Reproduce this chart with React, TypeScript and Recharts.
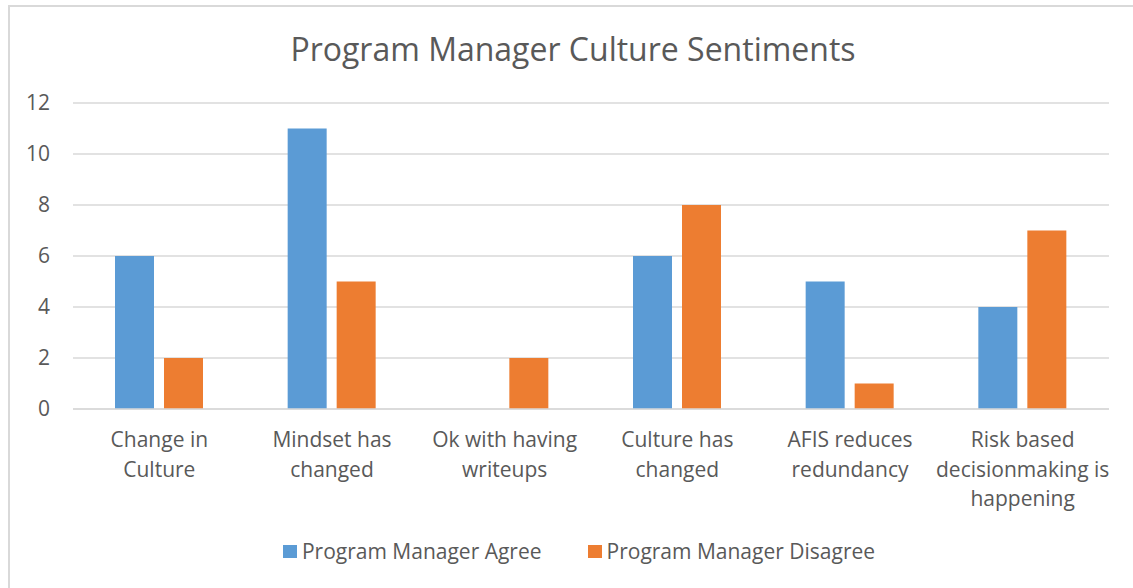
import React from "react"
import { BarChart, Bar, XAxis, YAxis, CartesianGrid } from "recharts"

const categories = [
  "Change in\nCulture",
  "Mindset has\nchanged",
  "Ok with having\nwriteups",
  "Culture has\nchanged",
  "AFIS reduces\nredundancy",
  "Risk based\ndecisionmaking is\nhappening",
]
const agree = [6, 11, 0, 6, 5, 4]
const disagree = [2, 5, 2, 8, 1, 7]
const yTicks = [0, 2, 4, 6, 8, 10, 12]

const BLUE = "#5B9BD5"
const ORANGE = "#ED7D31"
const TEXT = "#595959"
const FONT = "'Open Sans', sans-serif"

const data = categories.map((name, i) => ({
  name,
  agree: agree[i],
  disagree: disagree[i],
}))

function CategoryTick(props: any) {
  const { x, y, payload } = props
  const lines = String(payload.value).split("\n")
  return (
    <text x={x} y={y} textAnchor="middle" fill={TEXT} fontSize={21} fontFamily={FONT}>
      {lines.map((line: string, i: number) => (
        <tspan key={i} x={x} dy={i === 0 ? 30 : 29.5}>
          {line}
        </tspan>
      ))}
    </text>
  )
}

function ChartLegend() {
  const items = [
    { label: "Program Manager Agree", color: BLUE },
    { label: "Program Manager Disagree", color: ORANGE },
  ]
  return (
    <div
      style={{
        position: "absolute",
        left: 0,
        top: 537,
        width: 1158,
        display: "flex",
        justifyContent: "center",
        gap: 46,
        fontFamily: FONT,
        fontSize: 21,
        color: TEXT,
      }}
    >
      {items.map((it) => (
        <div key={it.label} style={{ display: "flex", alignItems: "center" }}>
          <span style={{ width: 14, height: 13, background: it.color, marginRight: 5, display: "inline-block" }} />
          <span>{it.label}</span>
        </div>
      ))}
    </div>
  )
}

export default function App() {
  return (
    <div style={{ position: "absolute", left: 0, top: 0, width: 1133, height: 588, background: "#fff", overflow: "hidden" }}>
      <div
        style={{
          position: "absolute",
          left: 8,
          top: 5,
          width: 1140,
          height: 620,
          border: "2px solid #d9d9d9",
          boxSizing: "border-box",
        }}
      />
      <div
        style={{
          position: "absolute",
          left: 0,
          top: 27,
          width: 1146,
          textAlign: "center",
          fontFamily: FONT,
          fontSize: 32,
          color: TEXT,
        }}
      >
        Program Manager Culture Sentiments
      </div>
      <div style={{ position: "absolute", left: 0, top: 0 }}>
        <BarChart
          width={1133}
          height={588}
          data={data}
          margin={{ top: 103, right: 24, left: 0, bottom: 0 }}
          barGap={10}
          barSize={39}
        >
          <CartesianGrid vertical={false} stroke="#d9d9d9" strokeWidth={1.5} />
          <XAxis
            dataKey="name"
            tick={<CategoryTick />}
            tickLine={false}
            axisLine={{ stroke: "#d9d9d9", strokeWidth: 1.5 }}
            interval={0}
            height={179}
          />
          <YAxis
            domain={[0, 12]}
            ticks={yTicks}
            width={73}
            tickLine={false}
            axisLine={false}
            tickMargin={17}
            tick={{ fill: TEXT, fontSize: 21, fontFamily: FONT }}
          />
          <Bar dataKey="agree" name="Program Manager Agree" fill={BLUE} isAnimationActive={false} />
          <Bar dataKey="disagree" name="Program Manager Disagree" fill={ORANGE} isAnimationActive={false} />
        </BarChart>
      </div>
      <ChartLegend />
    </div>
  )
}
